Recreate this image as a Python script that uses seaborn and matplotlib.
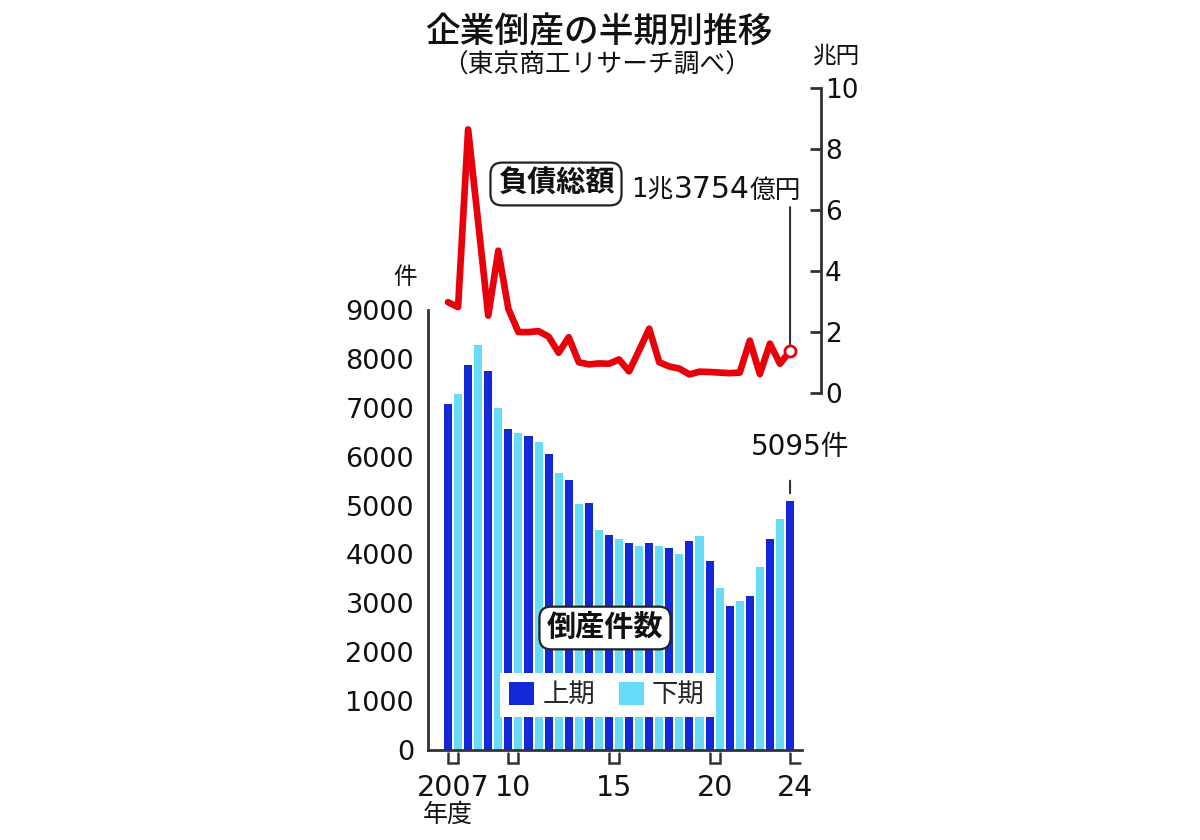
import numpy as np
import pandas as pd
import matplotlib
matplotlib.use("Agg")
import matplotlib.pyplot as plt
from matplotlib.patches import Patch
from matplotlib.offsetbox import TextArea, HPacker, AnchoredOffsetbox
import seaborn as sns

# ---------------- data ----------------
years = list(range(2007, 2025))
halves = ["上期", "下期"]
periods = [f"{y}{h}" for y in years for h in halves][:35]
period_half = [h for y in years for h in halves][:35]

# 倒産件数 (件)
counts = [7070, 7290, 7870, 8280, 7750, 7000, 6560, 6490, 6425, 6290,
          6050, 5670, 5520, 5030, 5060, 4500, 4405, 4320, 4235, 4180,
          4235, 4175, 4135, 4000, 4270, 4385, 3858, 3305, 2937, 3043,
          3141, 3739, 4324, 4729, 5095]

# 負債総額 (兆円)
liabilities = [2.98, 2.82, 8.65, 5.60, 2.54, 4.67, 2.76, 2.00, 2.00, 2.03,
               1.85, 1.32, 1.83, 1.01, 0.94, 0.97, 0.96, 1.10, 0.71, 1.40,
               2.11, 1.01, 0.87, 0.80, 0.61, 0.70, 0.69, 0.67, 0.65, 0.67,
               1.72, 0.62, 1.62, 0.96, 1.3754]

tick_years = [2007, 2010, 2015, 2020, 2024]
tick_labels = ["2007", "10", "15", "20", "24"]

# ---------------- style ----------------
DARK = "#1428d8"
LIGHT = "#66dcf8"
RED = "#e8000b"
AX = "#333333"

sns.set_theme(style="white")
plt.rcParams["font.family"] = ["DejaVu Sans", "Noto Sans CJK JP"]

W, H = 1200, 840
fig = plt.figure(figsize=(12, 8.4), dpi=100)
fig.patch.set_facecolor("white")


def rect(l, r, t, b):
    return [l / W, 1 - b / H, (r - l) / W, (b - t) / H]


def ftext(x, y, s, **kw):
    return fig.text(x / W, 1 - y / H, s, **kw)


pitch = 10.06  # px per half-year
x0 = 448.0     # pixel centre of first bar

# ---------------- bars ----------------
ax = fig.add_axes(rect(428, 802, 310, 750))
df = pd.DataFrame({"period": periods, "count": counts, "half": period_half})
sns.barplot(data=df, x="period", y="count", hue="half", order=periods,
            hue_order=halves, palette=[DARK, LIGHT], dodge=False, width=0.8,
            saturation=1, linewidth=0, legend=False, ax=ax)
ax.set_xlim(-(x0 - 428) / pitch, (802 - x0) / pitch)
ax.set_ylim(0, 9000)
ax.set_yticks(np.arange(0, 9001, 1000))
ax.set_xlabel("")
ax.set_ylabel("")
for s in ["top", "right"]:
    ax.spines[s].set_visible(False)
for s in ["left", "bottom"]:
    ax.spines[s].set_color(AX)
    ax.spines[s].set_linewidth(2)
ax.tick_params(axis="y", direction="out", length=8, width=2, color=AX,
               labelsize=19.5, pad=2, labelcolor="#111111")
ax.set_xticks([])
ax.patch.set_visible(False)

# year brackets under the axis
xt = ax.get_xaxis_transform()
yb_top = (750 - 753) / 440
yb_bot = (750 - 763) / 440
for yr, lab in zip(tick_years, tick_labels):
    i = (yr - years[0]) * 2
    if yr == years[-1]:
        xs, ys = [i, i, i + 1], [yb_top, yb_bot, yb_bot]
        xl = i + 0.45
    else:
        xs, ys = [i, i, i + 1, i + 1], [yb_top, yb_bot, yb_bot, yb_top]
        xl = i + 0.5
    ax.plot(xs, ys, color=AX, lw=1.8, transform=xt, clip_on=False,
            solid_joinstyle="miter")
    ax.text(xl, (750 - 796) / 440, lab, transform=xt, ha="center",
            va="baseline", fontsize=20.5, color="#111111")

# legend
handles = [Patch(facecolor=DARK, edgecolor="none", label="上期"),
           Patch(facecolor=LIGHT, edgecolor="none", label="下期")]
leg = ax.legend(handles=handles, ncol=2, loc="center",
                bbox_to_anchor=(607 / W, 1 - 695 / H),
                bbox_transform=fig.transFigure, fontsize=19,
                handlelength=0.95, handleheight=0.95, handletextpad=0.3,
                columnspacing=0.9, borderpad=0.35, frameon=True,
                fancybox=False)
leg.get_frame().set_facecolor("white")
leg.get_frame().set_edgecolor("none")
leg.get_frame().set_alpha(1)

# 5095件 label
last = len(counts) - 1
ax.annotate("", xy=(last, counts[last] + 100), xytext=(last, counts[last] + 470),
            arrowprops=dict(arrowstyle="-", color=AX, lw=1.5))
ax.annotate(f"{counts[last]}件", xy=(last, counts[last]), xytext=(7, 39),
            textcoords="offset points", ha="center", va="center",
            fontsize=20, color="#111111")

# ---------------- line ----------------
ax2 = fig.add_axes(rect(428, 820.7, 88.3, 393))
ax2.patch.set_visible(False)
xs_line = np.arange(len(liabilities))
sns.lineplot(x=xs_line, y=liabilities, color=RED, lw=4.8, ax=ax2)
ax2.plot(xs_line[-1], liabilities[-1], "o", mfc="white", mec=RED, ms=8,
         mew=2, zorder=5)
ax2.set_xlim(-(x0 - 428) / pitch, (820.7 - x0) / pitch)
ax2.set_ylim(0, 10)
ax2.set_yticks(np.arange(0, 11, 2))
ax2.set_xticks([])
for s in ["top", "left", "bottom"]:
    ax2.spines[s].set_visible(False)
ax2.spines["right"].set_color(AX)
ax2.spines["right"].set_linewidth(2)
ax2.yaxis.tick_right()
ax2.tick_params(axis="y", direction="in", length=8, width=2, color=AX,
                labelsize=19, pad=3, labelcolor="#111111")

ax2.annotate("", xy=(xs_line[-1], liabilities[-1]),
             xytext=(xs_line[-1], 6.1),
             arrowprops=dict(arrowstyle="-", color=AX, lw=1.5,
                             shrinkA=0, shrinkB=5))

# ---------------- texts ----------------
ftext(599, 32, "企業倒産の半期別推移", ha="center", va="center",
      fontsize=25, fontweight="medium", color="#111111")
ftext(597, 66, "（東京商工リサーチ調べ）", ha="center", va="center",
      fontsize=18.5, color="#111111")
ftext(837, 56, "兆円", ha="center", va="center", fontsize=17, color="#111111")
ftext(405, 277, "件", ha="center", va="center", fontsize=17, color="#111111")
ftext(448, 815, "年度", ha="center", va="center", fontsize=18, color="#111111")

box = dict(boxstyle="round,pad=0.25,rounding_size=0.4", facecolor="white",
           edgecolor="#222222", linewidth=1.6)
ftext(556, 184, "負債総額", ha="center", va="center", fontsize=21,
      fontweight="bold", color="#111111", bbox=box)
ftext(605, 628, "倒産件数", ha="center", va="center", fontsize=21,
      fontweight="bold", color="#111111", bbox=box)

# 1兆3754億円 with a larger middle part
parts = [TextArea("1兆", textprops=dict(fontsize=18.5, color="#111111")),
         TextArea("3754", textprops=dict(fontsize=21.5, color="#111111")),
         TextArea("億円", textprops=dict(fontsize=18.5, color="#111111"))]
packed = HPacker(children=parts, align="baseline", pad=0, sep=0)
anch = AnchoredOffsetbox(loc="center left", child=packed, pad=0, borderpad=0,
                         frameon=False,
                         bbox_to_anchor=(631 / W, 1 - 189 / H),
                         bbox_transform=fig.transFigure)
fig.add_artist(anch)

fig.savefig("out.png", dpi=100, facecolor="white")
